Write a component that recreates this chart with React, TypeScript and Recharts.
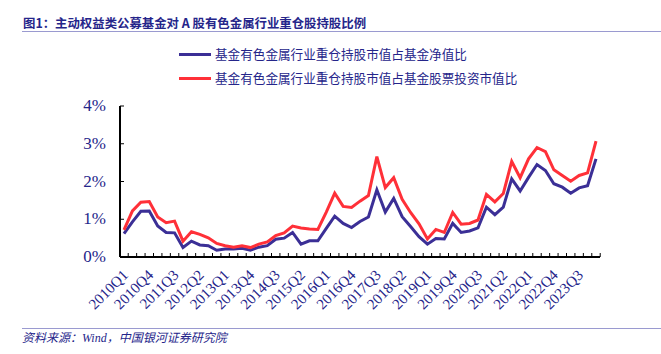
import { LineChart, Line, XAxis, YAxis } from "recharts"

const quarters = [
  "2010Q1", "2010Q2", "2010Q3", "2010Q4", "2011Q1", "2011Q2", "2011Q3", "2011Q4",
  "2012Q1", "2012Q2", "2012Q3", "2012Q4", "2013Q1", "2013Q2", "2013Q3", "2013Q4",
  "2014Q1", "2014Q2", "2014Q3", "2014Q4", "2015Q1", "2015Q2", "2015Q3", "2015Q4",
  "2016Q1", "2016Q2", "2016Q3", "2016Q4", "2017Q1", "2017Q2", "2017Q3", "2017Q4",
  "2018Q1", "2018Q2", "2018Q3", "2018Q4", "2019Q1", "2019Q2", "2019Q3", "2019Q4",
  "2020Q1", "2020Q2", "2020Q3", "2020Q4", "2021Q1", "2021Q2", "2021Q3", "2021Q4",
  "2022Q1", "2022Q2", "2022Q3", "2022Q4", "2023Q1", "2023Q2", "2023Q3", "2023Q4",
  "2024Q1",
]

// 基金有色金属行业重仓持股市值占基金净值比 (%)
const navRatio = [
  0.62, 0.93, 1.21, 1.22, 0.82, 0.65, 0.64, 0.25, 0.42, 0.32, 0.30, 0.18, 0.21, 0.21, 0.23, 0.18,
  0.26, 0.30, 0.47, 0.50, 0.65, 0.34, 0.43, 0.43, 0.76, 1.08, 0.89, 0.78, 0.94, 1.06, 1.78, 1.19,
  1.55, 1.07, 0.81, 0.54, 0.34, 0.49, 0.48, 0.89, 0.65, 0.69, 0.77, 1.32, 1.12, 1.32, 2.07, 1.75,
  2.11, 2.45, 2.29, 1.94, 1.85, 1.69, 1.83, 1.89, 2.60,
]

// 基金有色金属行业重仓持股市值占基金股票投资市值比 (%)
const stockRatio = [
  0.72, 1.22, 1.45, 1.47, 1.06, 0.91, 0.95, 0.42, 0.67, 0.60, 0.51, 0.36, 0.30, 0.26, 0.30, 0.25,
  0.34, 0.40, 0.57, 0.64, 0.82, 0.77, 0.74, 0.73, 1.19, 1.69, 1.34, 1.31, 1.48, 1.63, 2.66, 1.84,
  2.10, 1.53, 1.18, 0.88, 0.48, 0.73, 0.65, 1.18, 0.87, 0.89, 0.98, 1.66, 1.46, 1.68, 2.53, 2.10,
  2.60, 2.90, 2.79, 2.31, 2.16, 2.01, 2.16, 2.23, 3.07,
]

const yTicks = [0, 1, 2, 3, 4]

const data = quarters.map((q, i) => ({ q, nav: navRatio[i], stock: stockRatio[i] }))

const W = 661
const H = 354
const X_H = 30
const MARGIN = { top: 106, right: 61, bottom: 97 - X_H, left: 80 }
const Y_W = 40
const PAD = 4
const PLOT_W = W - MARGIN.left - Y_W - MARGIN.right
const STEP = (PLOT_W - PAD * 2) / (quarters.length - 1)

const NAVY = "#25258a"
const BLUE = "#3b2f96"
const RED = "#ff3038"
const SERIF = '"Liberation Serif", "Times New Roman", serif'
const CJK = '"Noto Sans CJK SC", sans-serif'

function XTick(props: any) {
  const { x, y, payload } = props
  const i = payload.index
  return (
    <g>
      <line x1={x - STEP / 2} x2={x - STEP / 2} y1={y} y2={y - 4} stroke="#000" strokeWidth={1} />
      {i === quarters.length - 1 && (
        <line x1={x + STEP / 2} x2={x + STEP / 2} y1={y} y2={y - 4} stroke="#000" strokeWidth={1} />
      )}
      {i % 3 === 0 && (
        <text
          transform={`translate(${x + 5},${y + 19}) rotate(-45)`}
          textAnchor="end"
          fill={NAVY}
          fontSize={15}
          fontFamily={SERIF}
        >
          {payload.value}
        </text>
      )}
    </g>
  )
}

function YTick(props: any) {
  const { x, y, payload } = props
  return (
    <g>
      <line x1={x} x2={x + 4} y1={y} y2={y} stroke="#000" strokeWidth={1} />
      <text x={x - 14} y={y + 5} textAnchor="end" fill={NAVY} fontSize={17} fontFamily={SERIF}>
        {`${payload.value}%`}
      </text>
    </g>
  )
}

function LegendRow({ color, label, top }: { color: string; label: string; top: number }) {
  return (
    <div style={{ position: "absolute", left: 179, top, display: "flex", alignItems: "center" }}>
      <div style={{ width: 32, height: 3, background: color, marginRight: 4 }} />
      <span style={{ fontFamily: CJK, fontSize: 12.6, color: NAVY, lineHeight: "16px" }}>{label}</span>
    </div>
  )
}

export default function App() {
  return (
    <div style={{ position: "absolute", left: 0, top: 0, width: W, height: H, background: "#fff" }}>
      <div
        style={{
          position: "absolute",
          left: 23,
          top: 15,
          fontFamily: CJK,
          fontWeight: 700,
          fontSize: 12.4,
          color: NAVY,
          lineHeight: "16px",
          whiteSpace: "nowrap",
        }}
      >
        图1：主动权益类公募基金对 A 股有色金属行业重仓股持股比例
      </div>
      <div style={{ position: "absolute", left: 22, right: 0, top: 31, height: 1, background: "#9a9ad0" }} />

      <LegendRow color={BLUE} label="基金有色金属行业重仓持股市值占基金净值比" top={46} />
      <LegendRow color={RED} label="基金有色金属行业重仓持股市值占基金股票投资市值比" top={70} />

      <LineChart width={W} height={H} data={data} margin={MARGIN}>
        <XAxis
          dataKey="q"
          height={X_H}
          interval={0}
          padding={{ left: PAD, right: PAD }}
          tickLine={false}
          tickSize={0}
          tickMargin={0}
          tick={<XTick />}
          axisLine={{ stroke: "#000", strokeWidth: 2 }}
        />
        <YAxis
          width={Y_W}
          domain={[0, 4]}
          ticks={yTicks}
          tickLine={false}
          tickSize={0}
          tickMargin={0}
          tick={<YTick />}
          axisLine={{ stroke: "#000", strokeWidth: 2 }}
        />
        <Line dataKey="nav" stroke={BLUE} strokeWidth={3} dot={false} isAnimationActive={false} />
        <Line dataKey="stock" stroke={RED} strokeWidth={3} dot={false} isAnimationActive={false} />
      </LineChart>

      <div style={{ position: "absolute", left: 22, right: 0, top: 328, height: 1, background: "#9a9ad0" }} />
      <div
        style={{
          position: "absolute",
          left: 22,
          top: 330,
          fontFamily: '"Liberation Serif", "Noto Sans CJK SC", serif',
          fontStyle: "italic",
          fontSize: 12,
          color: NAVY,
          lineHeight: "16px",
          whiteSpace: "nowrap",
        }}
      >
        资料来源：Wind，中国银河证券研究院
      </div>
    </div>
  )
}
